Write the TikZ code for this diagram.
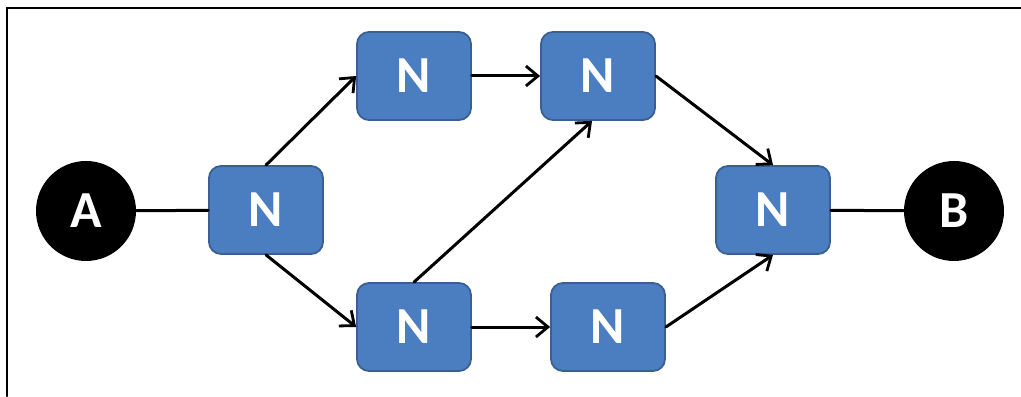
\documentclass[tikz,border=0pt]{standalone}
\usepackage{fontspec}
\setsansfont{Carlito}
\usetikzlibrary{arrows.meta}
\definecolor{nodeblue}{HTML}{4A7EC0}
\definecolor{edgeblue}{HTML}{3A5F92}

\begin{document}
\begin{tikzpicture}[x=0.5pt,y=0.5pt,>={Straight Barb[length=6pt,width=10pt,line width=1.4pt]},line cap=round,
  nbox/.style={draw=edgeblue,line width=0.9pt,fill=nodeblue,rounded corners=6pt,
    minimum width=57pt,minimum height=44pt,text=white,font=\sffamily\bfseries\fontsize{26}{30}\selectfont},
  term/.style={circle,fill=black,minimum size=50pt,inner sep=0pt,text=white,
    font=\sffamily\bfseries\fontsize{26}{30}\selectfont},
  link/.style={line width=1.5pt}]
\useasboundingbox (0,0) rectangle (1021,396);
\fill[white] (0,0) rectangle (1021,396);
\draw[line width=1.2pt] (7,0) -- (7,388) -- (1021,388);
\node[term] (a) at (86,185) {A};
\node[term] (b) at (954,185) {B};
\node[nbox] (n1) at (266,186) {N};
\node[nbox] (n2) at (414,320) {N};
\node[nbox] (n3) at (414,69) {N};
\node[nbox] (n4) at (598,320) {N};
\node[nbox] (n5) at (608,69) {N};
\node[nbox] (n6) at (773,186) {N};
\draw[link] (a) -- (n1);
\draw[link,->] (n1.north) -- (n2.west);
\draw[link,->] (n1.south) -- (n3.west);
\draw[link,->] (n2) -- (n4);
\draw[link,->] (n3.north) -- ([xshift=-3pt]n4.south);
\draw[link,->] (n3) -- (n5);
\draw[link,->] (n4.east) -- (n6.north);
\draw[link,->] (n5.east) -- (n6.south);
\draw[link] (n6) -- (b);
\end{tikzpicture}
\end{document}
